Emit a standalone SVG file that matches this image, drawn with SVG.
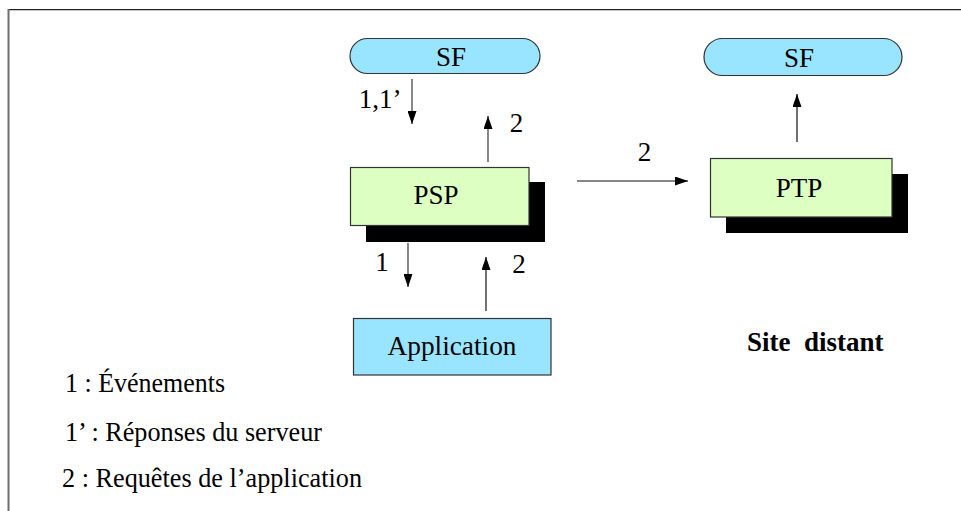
<svg xmlns="http://www.w3.org/2000/svg" width="961" height="511" viewBox="0 0 961 511">
<defs>
<marker id="ah" markerWidth="13" markerHeight="9" refX="13" refY="4.5" viewBox="0 0 13 9" orient="auto" markerUnits="userSpaceOnUse">
<path d="M0,0 L13,4.5 L0,9 Z" fill="#000"/>
</marker>
</defs>
<style>
text{font-family:"Liberation Serif","Times New Roman",serif;font-size:27px;fill:#000}
.c{text-anchor:middle}
.b{font-weight:bold}
.cyan{fill:#99E5FF;stroke:#333;stroke-width:1.2}
.green{fill:#DDFFC2;stroke:#333;stroke-width:1.2}
.shadow{fill:#000}
.arr{stroke:#555;stroke-width:1.4;fill:none;marker-end:url(#ah)}
.arrb{stroke:#111;stroke-width:1.2;fill:none;marker-end:url(#ah)}
</style>
<rect width="961" height="511" fill="#fff"/>
<g id="frame">
<line x1="8" y1="9.6" x2="961" y2="9.6" stroke="#222" stroke-width="1.4"/>
<line x1="8.5" y1="9" x2="8.5" y2="511" stroke="#6e6e6e" stroke-width="2"/>
</g>
<g id="connectors">
<line class="arr" x1="412" y1="79" x2="412" y2="124"/>
<line class="arr" x1="488" y1="162" x2="488" y2="116"/>
<line class="arr" x1="408" y1="243" x2="408" y2="287"/>
<line class="arrb" x1="486" y1="311" x2="486" y2="257"/>
<line class="arrb" x1="577" y1="181" x2="688" y2="181"/>
<line class="arrb" x1="797" y1="142" x2="797" y2="94"/>
<text x="380" y="108" class="c">1,1’</text>
<text x="516.5" y="132" class="c">2</text>
<text x="382" y="271" class="c">1</text>
<text x="519" y="273" class="c">2</text>
<text x="644.5" y="161" class="c">2</text>
</g>
<g id="sf1">
<rect class="cyan" x="350" y="38.5" width="190" height="35" rx="17.5" ry="17.5" stroke="#222" stroke-width="1.5"/>
<text x="451" y="66" class="c">SF</text>
</g>
<g id="sf2">
<rect class="cyan" x="704" y="38.5" width="198" height="37" rx="18.5" ry="18.5" stroke="#222" stroke-width="1.5"/>
<text x="799" y="67" class="c">SF</text>
</g>
<g id="psp">
<rect class="shadow" x="366" y="182" width="179" height="60"/>
<rect class="green" x="350.5" y="167.5" width="178.5" height="58"/>
<text x="436" y="204" class="c">PSP</text>
</g>
<g id="ptp">
<rect class="shadow" x="726" y="174" width="182" height="59"/>
<rect class="green" x="710.5" y="158.5" width="181.5" height="58.5"/>
<text x="799" y="197" class="c">PTP</text>
</g>
<g id="application">
<rect class="cyan" x="353.5" y="318.5" width="197.5" height="56.5"/>
<text x="452" y="355" class="c" textLength="129" lengthAdjust="spacingAndGlyphs">Application</text>
</g>
<g id="site">
<text x="747" y="351" class="b" xml:space="preserve">Site  distant</text>
</g>
<g id="legend">
<text x="65" y="392" textLength="160" lengthAdjust="spacingAndGlyphs">1 : Événements</text>
<text x="65" y="441" textLength="257" lengthAdjust="spacingAndGlyphs">1’ : Réponses du serveur</text>
<text x="62" y="487" textLength="300" lengthAdjust="spacingAndGlyphs">2 : Requêtes de l’application</text>
</g>
</svg>
